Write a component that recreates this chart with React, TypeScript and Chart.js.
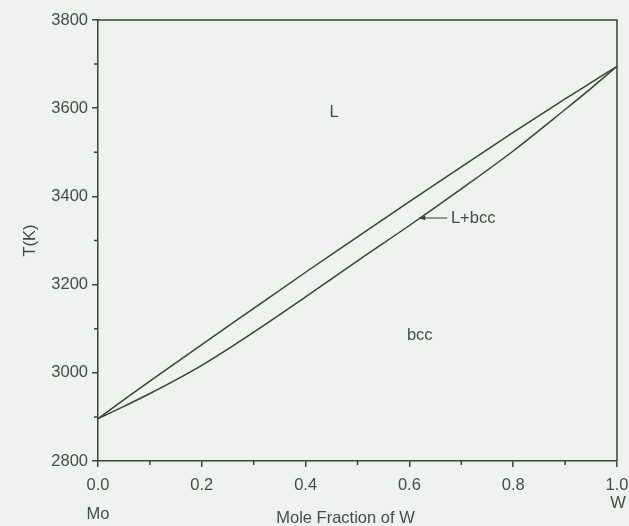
import React, { useEffect, useRef } from "react";
import { Chart, registerables } from "chart.js";

Chart.register(...registerables);

// Mole fraction of W
const xFrac = [0, 0.05, 0.1, 0.2, 0.3, 0.4, 0.5, 0.6, 0.7, 0.8, 0.9, 0.95, 1.0];
// Liquidus temperature (K)
const liquidus = [2896, 2939, 2981, 3064, 3146, 3228, 3308, 3388, 3467, 3545, 3621, 3658, 3695];
// Solidus temperature (K)
const solidus = [2896, 2924, 2953, 3017, 3092, 3172, 3254, 3334, 3417, 3503, 3597, 3645, 3695];

const xMajorTicks = [0, 0.2, 0.4, 0.6, 0.8, 1.0];
const xMinorTicks = [0.1, 0.3, 0.5, 0.7, 0.9];
const yMajorTicks = [2800, 3000, 3200, 3400, 3600, 3800];
const yMinorTicks = [2900, 3100, 3300, 3500, 3700];

const regionLabels = [
  { text: "L", x: 0.455, y: 3590 },
  { text: "bcc", x: 0.62, y: 3084 },
];
const arrowLabel = { text: "L+bcc", x: 0.68, y: 3351, tipX: 0.617, tailX: 0.673 };

const xTitle = "Mole Fraction of W";
const yTitle = "T(K)";
const leftEnd = "Mo";
const rightEnd = "W";

const AXIS = "#38433b";
const TEXT = "#464c47";
const BG = "#eff2ef";
const FONT = "'Liberation Sans', Arial, sans-serif";

export default function App() {
  const ref = useRef<HTMLCanvasElement | null>(null);

  useEffect(() => {
    document.body.style.margin = "0";
    document.body.style.background = BG;
    const canvas = ref.current;
    if (!canvas) return;

    const overlay = {
      id: "overlay",
      beforeDraw(chart: any) {
        const c = chart.ctx;
        c.save();
        c.fillStyle = BG;
        c.fillRect(0, 0, chart.width, chart.height);
        c.restore();
      },
      afterDraw(chart: any) {
        const c = chart.ctx;
        const xs = chart.scales.x;
        const ys = chart.scales.y;
        const a = chart.chartArea;
        c.save();
        c.strokeStyle = AXIS;
        c.lineWidth = 1.5;
        // top and right frame
        c.beginPath();
        c.moveTo(a.left, a.top);
        c.lineTo(a.right, a.top);
        c.lineTo(a.right, a.bottom);
        c.stroke();
        // minor ticks
        c.beginPath();
        xMinorTicks.forEach((v) => {
          const px = xs.getPixelForValue(v);
          c.moveTo(px, a.bottom);
          c.lineTo(px, a.bottom + 4);
        });
        yMinorTicks.forEach((v) => {
          const py = ys.getPixelForValue(v);
          c.moveTo(a.left, py);
          c.lineTo(a.left - 4, py);
        });
        c.stroke();

        c.fillStyle = TEXT;
        c.font = `16.5px ${FONT}`;
        c.textAlign = "center";
        c.textBaseline = "middle";
        regionLabels.forEach((l) => {
          c.fillText(l.text, xs.getPixelForValue(l.x), ys.getPixelForValue(l.y));
        });
        // arrow label
        const ay = ys.getPixelForValue(arrowLabel.y);
        const tip = xs.getPixelForValue(arrowLabel.tipX);
        const tail = xs.getPixelForValue(arrowLabel.tailX);
        c.lineWidth = 1;
        c.beginPath();
        c.moveTo(tail, ay);
        c.lineTo(tip + 3, ay);
        c.stroke();
        c.fillStyle = AXIS;
        c.beginPath();
        c.moveTo(tip, ay);
        c.lineTo(tip + 7, ay - 2.2);
        c.lineTo(tip + 7, ay + 2.2);
        c.closePath();
        c.fill();
        c.fillStyle = TEXT;
        c.textAlign = "left";
        c.fillText(arrowLabel.text, xs.getPixelForValue(arrowLabel.x), ay);

        // axis titles
        c.font = `16.5px ${FONT}`;
        c.textAlign = "center";
        c.fillText(xTitle, (a.left + a.right) / 2 - 12, a.bottom + 57);
        c.fillText(leftEnd, a.left, a.bottom + 53);
        c.fillText(rightEnd, a.right + 1, a.bottom + 42);
        c.save();
        c.translate(30, (a.top + a.bottom) / 2);
        c.rotate(-Math.PI / 2);
        c.fillText(yTitle, 0, 0);
        c.restore();
        c.restore();
      },
    };

    const lineStyle = {
      showLine: true,
      borderColor: AXIS,
      borderWidth: 1.5,
      pointRadius: 0,
      cubicInterpolationMode: "monotone",
    };

    const chart = new Chart(canvas, {
      type: "scatter",
      data: {
        datasets: [
          {
            label: "Liquidus",
            data: xFrac.map((x, i) => ({ x, y: liquidus[i] })),
            ...lineStyle,
          },
          {
            label: "Solidus",
            data: xFrac.map((x, i) => ({ x, y: solidus[i] })),
            ...lineStyle,
          },
        ],
      },
      options: {
        animation: false,
        responsive: false,
        devicePixelRatio: 1,
        layout: { padding: { left: 0, right: 12, top: 20, bottom: 0 } },
        plugins: { legend: { display: false }, tooltip: { enabled: false } },
        scales: {
          x: {
            type: "linear",
            min: 0,
            max: 1,
            afterBuildTicks: (s: any) => {
              s.ticks = xMajorTicks.map((v) => ({ value: v }));
            },
            afterFit: (s: any) => {
              s.height = 65;
              s.paddingLeft = 0;
              s.paddingRight = 0;
            },
            ticks: {
              color: TEXT,
              font: { family: FONT, size: 16.5 },
              padding: 9,
              maxRotation: 0,
              callback: (v: any) => Number(v).toFixed(1),
            },
            grid: {
              drawOnChartArea: false,
              drawTicks: true,
              tickLength: 6,
              color: AXIS,
              lineWidth: 1.5,
            },
            border: { display: true, color: AXIS, width: 1.5 },
          },
          y: {
            type: "linear",
            min: 2800,
            max: 3800,
            afterBuildTicks: (s: any) => {
              s.ticks = yMajorTicks.map((v) => ({ value: v }));
            },
            afterFit: (s: any) => {
              s.width = 98;
              s.paddingTop = 0;
              s.paddingBottom = 0;
            },
            ticks: {
              color: TEXT,
              font: { family: FONT, size: 16.5 },
              padding: 4,
              callback: (v: any) => String(v),
            },
            grid: {
              drawOnChartArea: false,
              drawTicks: true,
              tickLength: 6,
              color: AXIS,
              lineWidth: 1.5,
            },
            border: { display: true, color: AXIS, width: 1.5 },
          },
        },
      },
      plugins: [overlay],
    } as any);

    return () => chart.destroy();
  }, []);

  return (
    <div style={{ width: 629, height: 526 }}>
      <canvas ref={ref} width={629} height={526} style={{ display: "block" }} />
    </div>
  );
}
